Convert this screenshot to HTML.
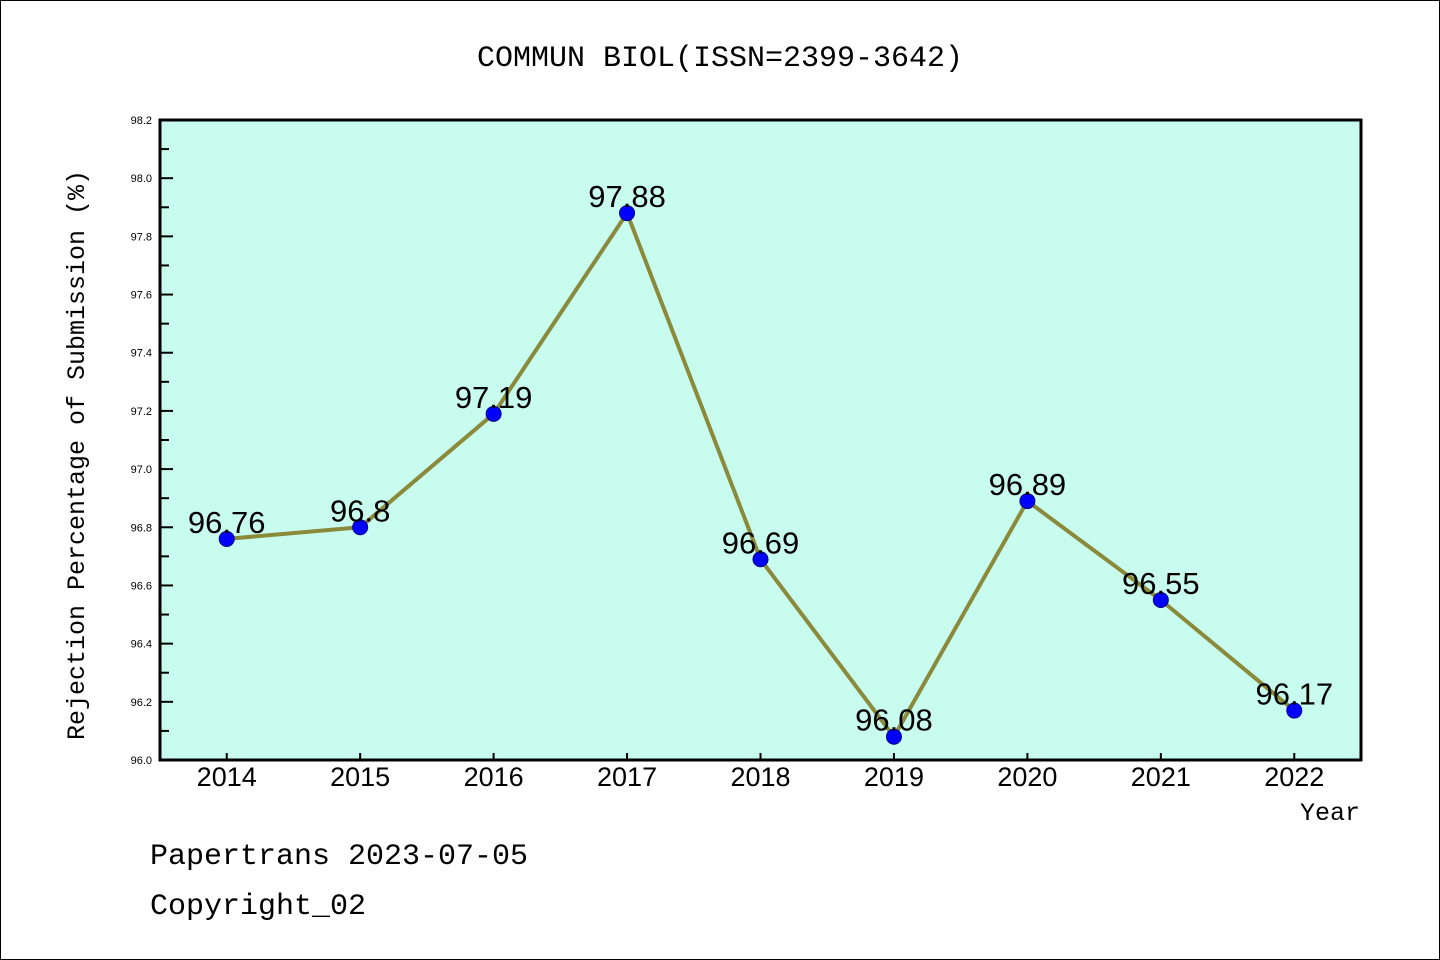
<!DOCTYPE html>
<html><head><meta charset="utf-8"><style>
html,body{margin:0;padding:0;background:#fff}
svg{display:block}
text{font-family:"Liberation Sans","WenQuanYi Zen Hei",sans-serif;fill:#000}
.mono{font-family:"Liberation Mono","WenQuanYi Zen Hei",monospace}
</style></head><body>
<svg id="chart" width="1440" height="960" xmlns="http://www.w3.org/2000/svg">
<rect x="0.5" y="0.5" width="1439" height="959" fill="#fff" stroke="#000" stroke-width="1"/>
<text x="720" y="66" font-size="30" text-anchor="middle" class="mono">COMMUN BIOL(ISSN=2399-3642)</text>
<rect x="160" y="120" width="1201" height="640" fill="#c8fcee"/>
<g id="axes"></g>
<g id="series"></g>
<rect x="160" y="120" width="1201" height="640" fill="none" stroke="#000" stroke-width="3"/>
<text transform="translate(84,455) rotate(-90)" font-size="25" text-anchor="middle" class="mono">Rejection Percentage of Submission (%)</text>
<text x="1360" y="820" font-size="25" text-anchor="end" class="mono">Year</text>
<text x="150" y="864" font-size="30" class="mono">Papertrans 2023-07-05</text>
<text x="150" y="914" font-size="30" class="mono">Copyright_02</text>
</svg>
<script>
const years = ["2014","2015","2016","2017","2018","2019","2020","2021","2022"];
const values = [96.76,96.8,97.19,97.88,96.69,96.08,96.89,96.55,96.17];
const valueLabels = ["96.76","96.8","97.19","97.88","96.69","96.08","96.89","96.55","96.17"];
const yTicks = ["96.0","96.2","96.4","96.6","96.8","97.0","97.2","97.4","97.6","97.8","98.0","98.2"];
const NS="http://www.w3.org/2000/svg";
const x0=160,x1=1361,yTop=120,yBot=760,yMin=96.0,yMax=98.2;
const xs=i=>x0+(i+0.5)*(x1-x0)/years.length;
const ys=v=>yBot-(v-yMin)/(yMax-yMin)*(yBot-yTop);
function mk(tag,attrs,parent){const e=document.createElementNS(NS,tag);for(const k in attrs)e.setAttribute(k,attrs[k]);parent.appendChild(e);return e;}
const axes=document.getElementById('axes'),ser=document.getElementById('series');
yTicks.forEach((t,i)=>{
  const v=parseFloat(t),y=ys(v);
  const l=mk('line',{x1:x0,x2:x0+13,y1:y,y2:y,stroke:'#000','stroke-width':2},axes);
  
  
  const tx=mk('text',{x:152,y:y+4,'font-size':11,'text-anchor':'end'},axes);
  tx.textContent=t;
  
  
  if(i<yTicks.length-1){
    const ym=ys(v+0.1);
    const m=mk('line',{x1:x0,x2:x0+9,y1:ym,y2:ym,stroke:'#000','stroke-width':2},axes);
    
    
  }
});
years.forEach((yr,i)=>{
  const x=xs(i);
  const l=mk('line',{x1:x,x2:x,y1:yBot,y2:yBot-7,stroke:'#000','stroke-width':2},axes);
  
  
  const tx=mk('text',{x:x,y:786,'font-size':27,'text-anchor':'middle'},axes);
  tx.textContent=yr;
  
  
});
const pts=values.map((v,i)=>xs(i)+','+ys(v)).join(' ');
const pl=mk('polyline',{points:pts,fill:'none',stroke:'#8a8a3a','stroke-width':4,'stroke-linejoin':'round'},ser);


values.forEach((v,i)=>{
  const c=mk('circle',{cx:xs(i),cy:ys(v),r:7.5,fill:'#0000ff',stroke:'#00008b','stroke-width':1},ser);
  
  
  const t=mk('text',{x:xs(i),y:ys(v)-6,'font-size':31,'text-anchor':'middle'},ser);
  t.textContent=valueLabels[i];
  
  
});
</script>
</body></html>
